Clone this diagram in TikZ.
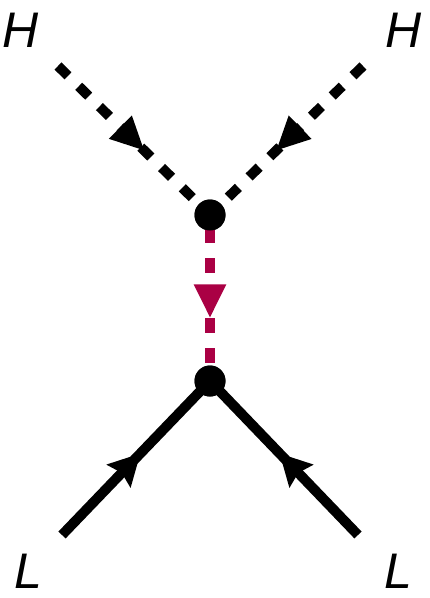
\documentclass[tikz,border=0pt]{standalone}
\usepackage{fontspec}
\setmainfont{Liberation Sans}
\usetikzlibrary{arrows.meta,decorations.markings}
\definecolor{wine}{RGB}{170,0,68}
\tikzset{
  prop/.style={line width=10pt},
  scal/.style={prop,dash pattern=on 14pt off 15pt},
  vdot/.style={circle,fill=black,inner sep=0pt,minimum size=31pt},
  lbl/.style={font=\fontsize{50}{50}\selectfont\itshape,inner sep=0pt},
  midtri/.style={postaction={decorate},decoration={markings,
     mark=at position #1 with {\arrow{Triangle[length=34pt,width=30pt]}}}},
  midstealth/.style={postaction={decorate},decoration={markings,
     mark=at position #1 with {\arrow{Stealth[length=31pt,width=32pt,inset=4pt]}}}}
}
\begin{document}
\begin{tikzpicture}[x=1pt,y=-1pt]
\useasboundingbox (0,0) rectangle (430,598);
\node[lbl] (h1) at (21,30) {H};
\node[lbl] (h2) at (404,30) {H};
\node[lbl] (l1) at (28,571) {L};
\node[lbl] (l2) at (398,571) {L};
\coordinate (a1) at (58,66);
\coordinate (a2) at (363,66);
\coordinate (b1) at (62,535);
\coordinate (b2) at (358,535);
\coordinate (r0) at (210,228);
\node[vdot] (v1) at (210,215) {};
\node[vdot] (v2) at (210,381) {};
\draw[scal,midtri=0.57] (a1) -- (v1.center);
\draw[scal,midtri=0.57] (a2) -- (v1.center);
\draw[prop,wine,dash pattern=on 15pt off 15pt,midtri=0.59] (r0) -- (v2.center);
\draw[prop,midstealth=0.53] (b1) -- (v2.center);
\draw[prop,midstealth=0.53] (b2) -- (v2.center);
\node[vdot] at (v1) {};
\node[vdot] at (v2) {};
\end{tikzpicture}
\end{document}
